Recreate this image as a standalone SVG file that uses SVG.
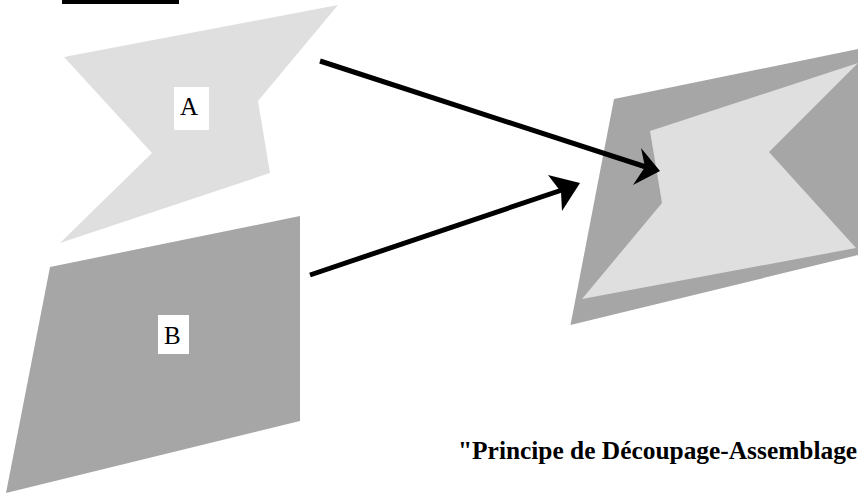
<svg xmlns="http://www.w3.org/2000/svg" width="858" height="494" viewBox="0 0 858 494">
<style>
.light{fill:#dfdfdf}
.dark{fill:#a6a6a6}
.box{fill:#fff}
.lbl{font-family:"Liberation Serif","Times New Roman",serif;font-size:25px;fill:#000}
.cap{font-family:"Liberation Serif","Times New Roman",serif;font-size:25.400px;font-weight:bold;fill:#000}
.conn{stroke:#000;stroke-width:5;fill:none}
.head{fill:#000}
</style>
<rect x="62" y="0" width="117" height="4" fill="#000"/>
<g id="node-a">
<polygon class="light" points="64,57 338,5 258,101 270,173 60,243 152,153"/>
<rect class="box" x="174" y="87" width="35" height="43"/>
<text class="lbl" x="180" y="115">A</text>
</g>
<g id="node-b">
<polygon class="dark" points="50,267 300,216 300,421 6,493"/>
<rect class="box" x="158" y="315" width="31" height="39"/>
<text class="lbl" x="164" y="344">B</text>
</g>
<g id="node-result">
<polygon class="dark" points="614,99 858,49 858,255 570.500,325"/>
<polygon class="light" points="650,131 858,63 769,152 856,248 582,299 662,203"/>
</g>
<g id="connectors">
<line class="conn" x1="320" y1="61" x2="646" y2="167"/>
<polygon class="head" points="660,171 633,185 645,167 641,148"/>
<line class="conn" x1="310" y1="275" x2="562" y2="190"/>
<polygon class="head" points="580,183 548,175 561,192 562,211"/>
</g>
<text class="cap" x="458" y="459">"Principe de Découpage-Assemblage</text>
</svg>
